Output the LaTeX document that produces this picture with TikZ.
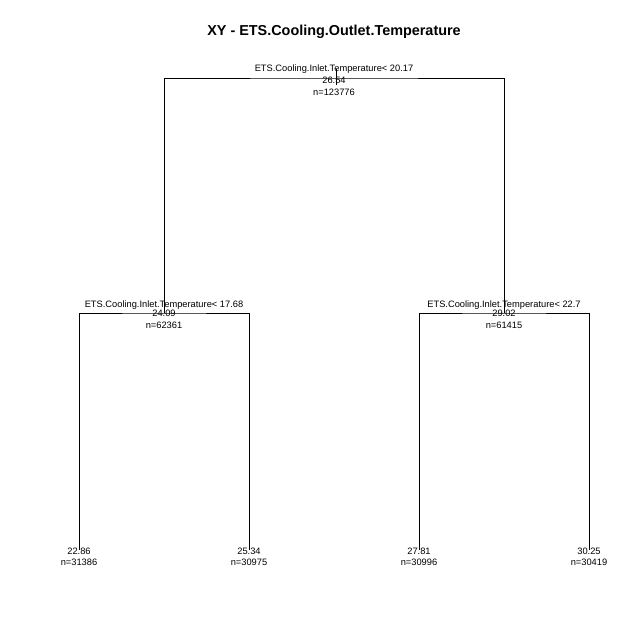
\documentclass[tikz,border=0pt]{standalone}
\usepackage{fontspec}
\setmainfont{Liberation Sans}

\begin{document}
\begin{tikzpicture}[x=1pt, y=-1pt,
    every node/.style={font=\fontsize{9.3}{11}\selectfont, inner sep=0pt},
    edge/.style={draw=black, line width=0.8pt},
    ttl/.style={font=\fontsize{14.4}{17}\selectfont\bfseries}
]
    \useasboundingbox (0,0) rectangle (640,640);
    \node[ttl] (title) at (334,31.5) {XY - ETS.Cooling.Outlet.Temperature};

    % split points
    \coordinate (n1) at (334,78);
    \coordinate (n2) at (164,313);
    \coordinate (n3) at (504,313);
    \coordinate (s1) at (336,69);
    \coordinate (s2) at (336,85);

    % leaves
    \foreach \i/\x/\val/\cnt in {4/79/22.86/31386, 5/249/25.34/30975, 6/419/27.81/30996, 7/589/30.25/30419} {
        \coordinate (n\i) at (\x,550);
        \node (v\i) at (\x,551) {\val};
        \node (c\i) at (\x,562) {n=\cnt};
    }

    % split labels
    \node (t1) at (334,69.5) {ETS.Cooling.Inlet.Temperature< 20.17};
    \node (v1) at (334,80.5) {26.54};
    \node (c1) at (334,92) {n=123776};
    \node (t2) at (164,305) {ETS.Cooling.Inlet.Temperature< 17.68};
    \node (v2) at (164,313.5) {24.09};
    \node (c2) at (164,325) {n=62361};
    \node (t3) at (504,305) {ETS.Cooling.Inlet.Temperature< 22.7};
    \node (v3) at (504,313.5) {29.02};
    \node (c3) at (504,325) {n=61415};

    % branches
    \draw[edge] (s1) -- (s2);
    \draw[edge] (n2) |- (n1) -| (n3);
    \draw[edge] (n4) |- (n2) -| (n5);
    \draw[edge] (n6) |- (n3) -| (n7);
\end{tikzpicture}
\end{document}
